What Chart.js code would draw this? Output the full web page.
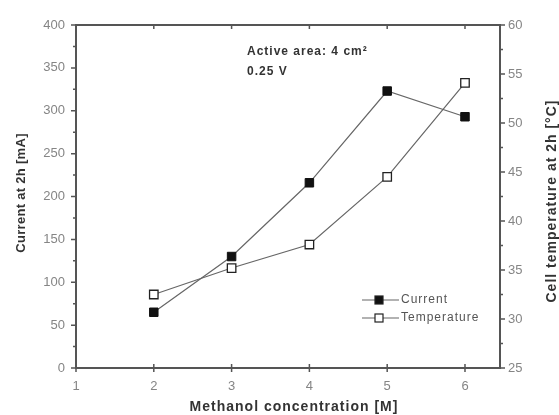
<!DOCTYPE html>
<html>
<head>
<meta charset="utf-8">
<script src="https://cdn.jsdelivr.net/npm/chart.js@4/dist/chart.umd.min.js"></script>
<style>
  html, body { margin: 0; padding: 0; background: #fff; }
  #wrap { width: 559px; height: 415px; position: relative; }
</style>
</head>
<body>
<div id="wrap"><canvas id="chart" width="559" height="415"></canvas></div>
<script>
// methanol concentration [M]
const concentrations = [2, 3, 4, 5, 6];
// current at 2h [mA]
const currentValues = [65, 130, 216, 323, 293];
// cell temperature at 2h [°C]
const temperatureValues = [32.5, 35.2, 37.6, 44.5, 54.1];

const xTicks = [1, 2, 3, 4, 5, 6];
const leftTicks = [0, 50, 100, 150, 200, 250, 300, 350, 400];
const rightTicks = [25, 30, 35, 40, 45, 50, 55, 60];

const frameColor = '#555';
const lineColor = '#666';
const labelColor = '#858585';
const titleColor = '#333';
const fontFamily = '"Liberation Sans", Arial, sans-serif';

// frame, tick marks, legend and note drawn on top of the chart
const decorations = {
  id: 'decorations',
  afterDraw(chart) {
    const ctx = chart.ctx;
    const a = chart.chartArea;
    const x = chart.scales.x, yl = chart.scales.y, yr = chart.scales.y1;
    ctx.save();
    ctx.strokeStyle = frameColor;
    ctx.lineWidth = 1.5;

    // ticks
    ctx.beginPath();
    xTicks.forEach(v => {
      const px = x.getPixelForValue(v);
      ctx.moveTo(px, a.bottom + 4); ctx.lineTo(px, a.bottom - 4);
      ctx.moveTo(px, a.top); ctx.lineTo(px, a.top + 4);
    });
    for (let v = 0; v <= 400; v += 25) {
      const py = yl.getPixelForValue(v);
      ctx.moveTo(a.left, py); ctx.lineTo(a.left - (v % 50 === 0 ? 5 : 3), py);
    }
    for (let v = 25; v <= 60; v += 2.5) {
      const py = yr.getPixelForValue(v);
      ctx.moveTo(a.right, py); ctx.lineTo(a.right + (v % 5 === 0 ? 5 : 3), py);
    }
    ctx.stroke();

    // frame
    ctx.lineWidth = 2;
    ctx.strokeRect(a.left, a.top, a.right - a.left, a.bottom - a.top);

    // note
    ctx.fillStyle = titleColor;
    ctx.font = 'bold 12px ' + fontFamily;
    ctx.letterSpacing = '1px';
    ctx.textBaseline = 'middle';
    ctx.textAlign = 'left';
    ctx.fillText('Active area: 4 cm\u00b2', 247, 52);
    ctx.fillText('0.25 V', 247, 72);

    // legend
    const rows = [
      { label: 'Current', fill: '#111', y: 300 },
      { label: 'Temperature', fill: '#fff', y: 318 }
    ];
    ctx.font = '12px ' + fontFamily;
    rows.forEach(r => {
      ctx.strokeStyle = lineColor;
      ctx.lineWidth = 1.2;
      ctx.beginPath();
      ctx.moveTo(362, r.y); ctx.lineTo(399, r.y);
      ctx.stroke();
      ctx.fillStyle = r.fill;
      ctx.fillRect(375, r.y - 4, 8, 8);
      ctx.strokeStyle = '#222';
      ctx.lineWidth = 1.2;
      ctx.strokeRect(375, r.y - 4, 8, 8);
      ctx.fillStyle = '#555';
      ctx.fillText(r.label, 401, r.y);
    });

    // axis titles
    ctx.fillStyle = titleColor;
    ctx.textAlign = 'center';
    ctx.font = 'bold 14px ' + fontFamily;
    ctx.fillText('Methanol concentration [M]', 294, 407);
    ctx.save();
    ctx.translate(552, 201);
    ctx.rotate(-Math.PI / 2);
    ctx.fillText('Cell temperature at 2h [\u00b0C]', 0, 0);
    ctx.restore();
    ctx.font = 'bold 13px ' + fontFamily;
    ctx.letterSpacing = '0.3px';
    ctx.save();
    ctx.translate(21, 193);
    ctx.rotate(-Math.PI / 2);
    ctx.fillText('Current at 2h [mA]', 0, 0);
    ctx.restore();
    ctx.restore();
  }
};

const tickFont = { family: fontFamily, size: 13 };

new Chart(document.getElementById('chart'), {
  type: 'line',
  data: {
    datasets: [
      {
        label: 'Current',
        data: concentrations.map((c, i) => ({ x: c, y: currentValues[i] })),
        yAxisID: 'y',
        borderColor: lineColor,
        borderWidth: 1.2,
        pointStyle: 'rect',
        pointRadius: 6,
        pointBackgroundColor: '#111',
        pointBorderColor: '#111',
        pointBorderWidth: 1,
        tension: 0
      },
      {
        label: 'Temperature',
        data: concentrations.map((c, i) => ({ x: c, y: temperatureValues[i] })),
        yAxisID: 'y1',
        borderColor: lineColor,
        borderWidth: 1.2,
        pointStyle: 'rect',
        pointRadius: 6,
        pointBackgroundColor: '#fff',
        pointBorderColor: '#222',
        pointBorderWidth: 1.3,
        tension: 0
      }
    ]
  },
  options: {
    responsive: false,
    animation: false,
    devicePixelRatio: 1,
    layout: { padding: { top: 25, left: 0, right: 0, bottom: 0 } },
    plugins: { legend: { display: false }, tooltip: { enabled: false } },
    scales: {
      x: {
        type: 'linear',
        min: 1,
        max: 6.45,
        afterBuildTicks: s => { s.ticks = xTicks.map(v => ({ value: v })); },
        afterFit: s => { s.height = 47; },
        grid: { display: false, drawTicks: false },
        border: { display: false },
        ticks: { font: tickFont, color: labelColor, padding: 11 }
      },
      y: {
        position: 'left',
        min: 0,
        max: 400,
        afterBuildTicks: s => { s.ticks = leftTicks.map(v => ({ value: v })); },
        afterFit: s => { s.width = 76; },
        grid: { display: false, drawTicks: false },
        border: { display: false },
        ticks: { font: tickFont, color: labelColor, padding: 11 }
      },
      y1: {
        position: 'right',
        min: 25,
        max: 60,
        afterBuildTicks: s => { s.ticks = rightTicks.map(v => ({ value: v })); },
        afterFit: s => { s.width = 59; },
        grid: { display: false, drawTicks: false },
        border: { display: false },
        ticks: { font: tickFont, color: labelColor, padding: 8 }
      }
    }
  },
  plugins: [decorations]
});
</script>
</body>
</html>
